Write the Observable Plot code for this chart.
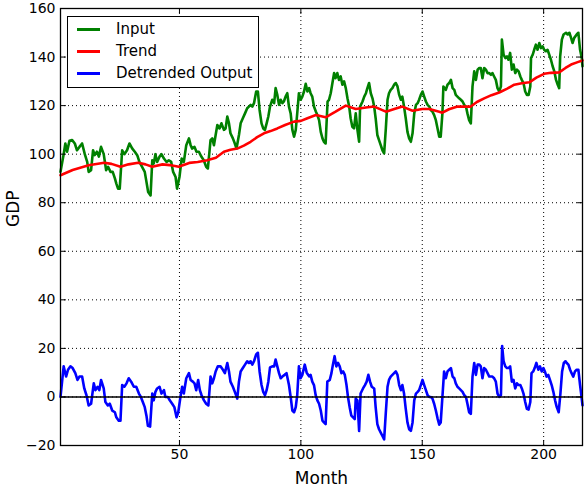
<!DOCTYPE html>
<html>
<head>
<meta charset="utf-8">
<script src="https://cdn.jsdelivr.net/npm/d3@7"></script>
<script src="https://cdn.jsdelivr.net/npm/@observablehq/plot@0.6"></script>
<style>
  body { margin: 0; background: #fff; }
  #wrap { position: relative; width: 584px; height: 488px; font-family: "DejaVu Sans", sans-serif; }
  #legend { position: absolute; left: 67px; top: 16px; width: 192px; height: 72px; box-sizing: border-box;
            border: 1px solid #000; background: #fff; padding-top: 1px; }
  .row { display: flex; align-items: center; height: 22px; }
  .sw { margin-left: 9px; width: 23px; height: 3px; }
  .lab { margin-left: 16px; font-size: 15px; color: #000; white-space: nowrap; }
</style>
</head>
<body>
<div id="wrap"></div>
<script>
// ---- data ----
const seriesNames = ["Input", "Trend", "Detrended Output"];
const seriesColors = ["#008000", "#ff0000", "#0000ff"];
const xTicks = [50, 100, 150, 200];
const yTicks = [-20, 0, 20, 40, 60, 80, 100, 120, 140, 160];

// [month, GDP]
const inputSeries = [[1,92.7],[2.3,100],[3,104.4],[3.7,101],[4.7,105.5],[5.8,105.8],[6.9,104.4],[7.8,101.6],[8.8,103],[9.9,104.4],
[11,100],[12,96.8],[12.6,92.7],[13.6,93.4],[14.4,101.6],[15.1,99.6],[16,101],[16.8,99],[17.7,103],[18.8,100],
[19.8,93.4],[20.6,94.8],[21.6,92.7],[22.5,92.7],[23.4,90],[24,87.9],[24.7,85.8],[25.4,85.8],[26.4,101.6],[27.3,100],
[28.4,101.6],[29.4,104.4],[30.5,102.4],[31.6,101],[32.6,99.6],[33.5,96.8],[34.6,94.8],[35.7,92.7],[36.3,89.2],[37.1,84.4],
[38.1,83],[38.8,97.5],[39.4,96.1],[40.1,100],[40.8,96.8],[41.8,99],[42.6,100],[43.6,98.2],[44.7,96.8],[45.6,97.5],
[46.6,96.8],[47.4,92.7],[48.4,90.6],[49,85.8],[50,90.6],[50.9,98.2],[51.8,96.8],[52.8,103.7],[53.9,106.5],[54.6,103.7],
[55.2,102.3],[56.2,103],[57,101],[58,101],[59,99],[60,97.5],[61,94.8],[61.7,94.1],[62.8,105.8],[63.5,106.5],
[64.2,103.7],[64.9,107.9],[65.6,112],[66.5,110.6],[67.3,112.7],[68.3,110],[69,110.6],[69.7,115.5],[70.4,112.7],[71,108.6],
[72,106.5],[72.8,104.4],[73.5,102.3],[74.5,107.9],[75.2,112.7],[76.1,114.8],[77,116.8],[77.9,118.9],[78.6,119.6],[79.3,120.3],
[80,119.6],[80.7,121],[81.6,125.8],[82.3,125.8],[83,118.2],[83.8,112.7],[84.5,110.6],[85.2,110],[85.9,112.7],[86.6,115.5],
[87.3,119.6],[88.2,122.4],[89,121],[89.6,127.2],[90.3,124.4],[91,120.3],[91.7,122.4],[92.4,121],[93,121.7],[93.7,123.7],
[94.4,125.1],[95.1,119.6],[95.8,116.8],[96.5,110],[97.2,107.2],[97.9,110],[98.5,116.8],[99.2,125.1],[99.9,122.4],[100.6,123.7],
[101.3,125.8],[102,129],[102.7,125.8],[103.4,127.2],[104,125.1],[104.7,123.7],[105.4,119.6],[106.2,117.5],[106.8,116.1],[107.5,114],
[108.2,109.2],[108.9,106.5],[109.5,105.1],[110.2,104.4],[111,121.7],[111.6,122.4],[112.3,125.1],[113,129.3],[113.7,133.4],[114.3,131.3],
[115,133.4],[115.7,130.6],[116.4,132],[117.1,128.6],[117.8,130],[118.5,127.2],[119.2,123],[119.9,119.6],[120.5,114.8],[121.2,111.3],
[121.9,110.6],[122.6,116.8],[123.3,110],[124,105.1],[124.4,119.6],[125.4,121.7],[126.1,123.7],[126.8,125.1],[127.4,127.2],[128.1,129.3],
[128.8,125.1],[129.5,123],[130.2,119.6],[130.8,114.8],[131.5,107.9],[132.2,105.8],[132.9,103.7],[133.6,101.6],[134.3,100.3],[135,110.6],
[135.7,122.4],[136.3,125.1],[137,126.5],[137.7,127.2],[138.4,128.6],[139.1,129.3],[139.8,127.9],[140.5,124.4],[141.2,122.4],[141.8,123.7],
[142.5,119.6],[143.2,114.8],[143.9,109.2],[144.6,106.5],[145.3,105.1],[146,108.6],[146.7,116.8],[147.4,120.3],[148.1,121],[148.7,122.4],
[149.4,124.4],[150.1,125.8],[150.8,123.7],[151.5,121.7],[152.2,120.3],[152.9,119.6],[153.5,118.2],[154.2,117.5],[154.9,116.1],[155.6,114],
[156.3,110.6],[157,107.2],[157.6,107.2],[158.3,116.8],[158.7,127.9],[159.7,126.5],[160.4,128.6],[161.1,129.3],[161.8,130.6],[162.5,127.2],
[163.2,126.5],[163.8,124.4],[164.5,123.7],[165.2,123],[165.9,122.4],[166.6,121.7],[167.3,120.3],[168,119.6],[168.6,116.8],[169.3,114],
[170,112.7],[170.7,127.9],[171.4,134.1],[172.1,130.6],[172.8,134.8],[173.5,135.5],[174.1,135.5],[174.8,131.3],[175.5,135.5],[176.2,134.8],
[176.9,133.4],[177.6,133.4],[178.3,132.7],[178.9,133.4],[179.6,132],[180.3,130.6],[181,127.2],[181.7,125.8],[182.4,127.9],[182.8,147.2],
[183.5,141],[184.2,139.6],[184.9,140.3],[185.5,138.9],[186.2,141.7],[186.9,134.8],[187.6,136.9],[188.3,133.4],[189,134.8],[189.7,134.1],
[190.4,132],[191,130.6],[191.7,129.3],[192.4,125.8],[193.1,124.4],[193.8,124.4],[194.5,127.9],[194.8,139.6],[195.5,141],[196.1,143],
[196.8,145.1],[197.5,143],[198.2,145.8],[198.9,143.7],[199.6,144.4],[200.2,143],[200.9,142.4],[201.6,143],[202.3,141],[203,138.9],
[203.7,136.2],[204.4,134.1],[205.1,130.6],[205.8,128.6],[206.4,127.2],[206.8,140.3],[207.5,147.2],[208.2,149.3],[209.2,150],[209.9,149.3],
[210.6,150],[211.3,147.9],[211.9,145.8],[212.6,147.9],[213.6,149.3],[214.3,150],[215,143],[215.7,139.6],[216,136.2]];

const trendSeries = [[1,91.3],[6,93.5],[12.6,95.4],[19,96.5],[22,96],[25.7,94.8],[29,95.8],[33,96.5],[36,95.8],[38.8,94.8],
[43,95.8],[46,95.5],[49.7,94.8],[54,96.4],[57.5,96.8],[61.4,97.5],[65,98.5],[68.3,101],[71,101.8],[73.8,102.3],
[76.5,103.5],[79.3,105.1],[82,107],[84.8,108.6],[87.5,109.5],[90.3,110.6],[93.5,112],[97.2,113.4],[100,113.7],[102.7,114.8],
[106.2,116.1],[110.2,115.2],[114.3,117.5],[118.5,120],[122.6,118.6],[126.8,119.2],[130.2,119.6],[135,117.5],[138.5,118.6],[141.8,119.6],
[146,117.9],[150,118.6],[152.9,118.6],[157,117.5],[158.3,117.1],[161,118.5],[164.5,119.6],[170,119.6],[172.5,121.5],[175.5,123],
[178.5,124.3],[181.7,125.4],[185,127],[187.9,128.6],[191,129.2],[194.1,129.6],[197,131.5],[200.2,133.1],[203,133.5],[206.4,133.7],
[209,135.5],[211.3,136.9],[214,137.9],[216,138.6]];

const detrendedSeries = [[1,0],[2.3,12.6],[3.3,8.4],[4.1,11.2],[5.1,12.6],[6,11.9],[7.1,9.8],[8,7],[8.8,8.4],[9.9,8.4],
[10.8,3.5],[11.7,0.7],[12.6,-3.5],[13.6,-2.8],[14.7,5.6],[15.4,2.8],[16.3,4.2],[17,2.8],[17.7,7],[18.8,3.5],
[19.5,-2.1],[20.5,-3.5],[21.3,-2.8],[22.3,-5.6],[23.4,-6.3],[24,-8.4],[25,-9.8],[25.7,-9.8],[26.4,4.9],[27.3,4.2],
[28.2,5.6],[29.1,7.7],[30.1,6.3],[31.2,4.2],[32.2,4.2],[33.3,1.4],[34.1,0],[34.9,-2.1],[35.7,-4.2],[36.4,-7.7],
[37,-11.9],[37.9,-12.2],[38.8,1.4],[39.4,-1.4],[40.1,2.1],[40.8,3.5],[41.8,4.2],[42.6,1.4],[43.6,2.8],[44.2,0],
[45.2,0],[46,-1.4],[47,-2.8],[47.9,-4.2],[48.8,-8.4],[49.5,-6.3],[50.4,0],[51.1,4.2],[51.8,1.4],[52.8,7.7],
[53.9,9.8],[54.6,7],[55.5,6.3],[56.2,5.6],[56.9,2.8],[57.7,7],[58.4,2.8],[59.1,0.7],[60.1,-1.4],[61,-2.8],
[61.9,-3.5],[62.8,8.4],[63.5,5.6],[64.2,7.7],[64.9,10.5],[65.8,12.6],[66.9,12.6],[67.9,11.2],[68.7,9.8],[69.7,14],
[70.4,10.5],[71,6.3],[72,4.2],[72.8,2.1],[73.8,-0.7],[74.5,6.3],[75.2,10.5],[76.1,11.9],[77,13.3],[77.9,14.7],
[78.6,14],[79.3,14.7],[80,13.3],[80.7,14.7],[81.6,17.5],[82.3,18.2],[83,10.5],[83.8,4.9],[84.5,2.1],[85.2,0.7],
[85.9,2.8],[86.6,6.3],[87.3,12.2],[88.2,12.6],[89,12.6],[89.6,15.4],[90.3,12.6],[91,9.8],[91.7,7.7],[92.4,8.4],
[93.3,9.1],[94.1,9.8],[95.1,4.9],[95.8,0],[96.5,-5.6],[97.2,-6.3],[97.9,-4.2],[98.5,0.7],[99.2,12.6],[99.9,7.7],
[100.6,9.1],[101.6,13.3],[102.4,10],[103.4,8.5],[104,9.1],[104.7,6.3],[105.4,4.9],[106.1,0.7],[106.8,-1.4],[107.5,-2.8],
[108.2,-5.6],[108.9,-9.8],[109.5,-10.5],[110.2,-11.2],[110.9,6.3],[111.9,7],[112.6,9.8],[113.2,13.3],[113.9,16.8],[114.6,12.6],
[115.3,14],[116,12.6],[116.7,9.8],[117.4,10.5],[118.1,9.1],[118.8,4.9],[119.4,0],[120.1,-4.2],[120.8,-7.7],[121.5,-8.4],
[122.2,-9.1],[122.6,-0.7],[123.3,-1.4],[124,-14],[124.6,1.4],[125.6,3.5],[126.4,4.9],[127.1,6.3],[127.8,9.1],[128.5,6.3],
[129.2,4.2],[130.2,3.5],[130.8,-4.2],[131.5,-11.2],[132.2,-13.3],[132.9,-14.7],[133.6,-16.1],[134.3,-17.5],[135,-6.3],[135.7,4.2],
[136.3,7],[137,8.4],[137.7,9.1],[138.4,9.8],[139.1,10.5],[139.8,9.1],[140.5,4.9],[141.2,2.8],[141.8,4.9],[142.5,1.4],
[143.2,-4.9],[143.9,-10.5],[144.6,-13.3],[145.3,-14],[146,-10.5],[146.7,-1.4],[147.4,1.4],[148.1,2.1],[148.7,2.8],[149.4,4.9],
[150.1,7],[150.8,4.9],[151.5,2.8],[152.2,0.7],[152.9,0],[153.5,0],[154.2,-0.7],[154.9,-2.8],[155.6,-5.6],[156.3,-8.8],
[157,-11.4],[157.6,-10.5],[158.3,0],[159,10.5],[159.7,7.7],[160.4,10.5],[161.1,11.2],[161.8,11.9],[162.5,8.4],[163.2,7.7],
[163.8,5.6],[164.5,4.2],[165.2,3.5],[165.9,2.8],[166.6,2.1],[167.3,0.7],[168,0],[168.6,-2.8],[169.3,-6.3],[170,-7],
[170.7,8.4],[171.4,14],[172.1,9.1],[172.8,13.3],[173.5,13.3],[174.1,12.6],[174.8,7.7],[175.5,11.9],[176.2,11.2],[176.9,9.8],
[177.6,8.4],[178.3,8.4],[178.9,8.4],[179.6,7.7],[180.3,6.3],[181,1.4],[181.7,0],[182.4,0.7],[182.9,21],[183.5,14.7],
[184.2,12.6],[184.9,11.9],[185.5,11.9],[186.2,12.6],[186.9,6.3],[187.6,7],[188.3,3.5],[189,5.6],[189.7,4.9],[190.4,4.9],
[191,3.5],[191.7,1.4],[192.4,-2.1],[193.1,-4.9],[193.8,-5.2],[194.5,-2.1],[195,9.8],[195.7,10.5],[196.3,11.9],[197,14],
[197.8,11.2],[198.5,12.6],[199.2,10.5],[199.9,11.9],[200.5,10.5],[201.2,8.4],[201.9,9.1],[202.6,7],[203.3,4.9],[204,2.1],
[204.7,-1.4],[205.4,-4.2],[206.2,-6.3],[206.9,1.4],[207.6,10.5],[208.3,14],[209,14.7],[209.5,14],[210.2,13.3],[210.9,11.2],
[211.5,9.8],[212.2,8.4],[212.9,10.5],[213.6,11.2],[214.3,11.2],[215,4.9],[215.6,0],[216,-3.5]];

// ---- chart ----
const toRows = s => s.map(([month, gdp]) => ({month, gdp}));
const fmt = d => d < 0 ? "\u2212" + Math.abs(d) : String(d);
const tickShape = {draw(ctx, l) { ctx.moveTo(0, 0); ctx.lineTo(0, -l); }};
const inTicks = (data, ch, side, rot) => Plot.vector(data, {
  [ch]: d => d, frameAnchor: side, rotate: rot, length: 5, anchor: "start",
  shape: tickShape, stroke: "black", strokeWidth: 1
});
const grid = {stroke: "black", strokeOpacity: 1, strokeWidth: 1, strokeDasharray: "1,3"};
const allSeries = [inputSeries, trendSeries, detrendedSeries];

const chart = Plot.plot({
  width: 584, height: 488,
  marginLeft: 60, marginRight: 2, marginTop: 8, marginBottom: 43,
  style: {fontFamily: "DejaVu Sans", fontSize: "14px", color: "black", background: "white"},
  x: {domain: [1, 216]},
  y: {domain: [-20, 160]},
  marks: [
    Plot.gridX(xTicks, grid),
    Plot.gridY(yTicks, grid),
    ...allSeries.map((s, i) => Plot.line(toRows(s), {x: "month", y: "gdp", stroke: seriesColors[i], strokeWidth: 2.6})),
    Plot.ruleY([0], {stroke: "black", strokeWidth: 1.5}),
    inTicks(xTicks, "x", "bottom", 0),
    inTicks(xTicks, "x", "top", 180),
    inTicks(yTicks, "y", "left", 90),
    inTicks(yTicks, "y", "right", -90),
    Plot.frame({stroke: "black", strokeWidth: 1.3}),
    Plot.axisX(xTicks, {tickSize: 0, tickPadding: 4, label: null, fontSize: 14}),
    Plot.axisY(yTicks, {tickSize: 0, tickPadding: 5, tickFormat: fmt, label: null, fontSize: 14}),
    Plot.text(["Month"], {text: d => d, frameAnchor: "bottom", dy: 38, fontSize: 17}),
    Plot.text(["GDP"], {text: d => d, frameAnchor: "left", dx: -47, rotate: -90, fontSize: 17})
  ]
});

const wrap = document.getElementById("wrap");
wrap.appendChild(chart);
const legend = document.createElement("div");
legend.id = "legend";
seriesNames.forEach((name, i) => {
  const row = document.createElement("div");
  row.className = "row";
  const sw = document.createElement("div");
  sw.className = "sw";
  sw.style.background = seriesColors[i];
  const lab = document.createElement("span");
  lab.className = "lab";
  lab.textContent = name;
  row.appendChild(sw); row.appendChild(lab);
  legend.appendChild(row);
});
wrap.appendChild(legend);
</script>
</body>
</html>
